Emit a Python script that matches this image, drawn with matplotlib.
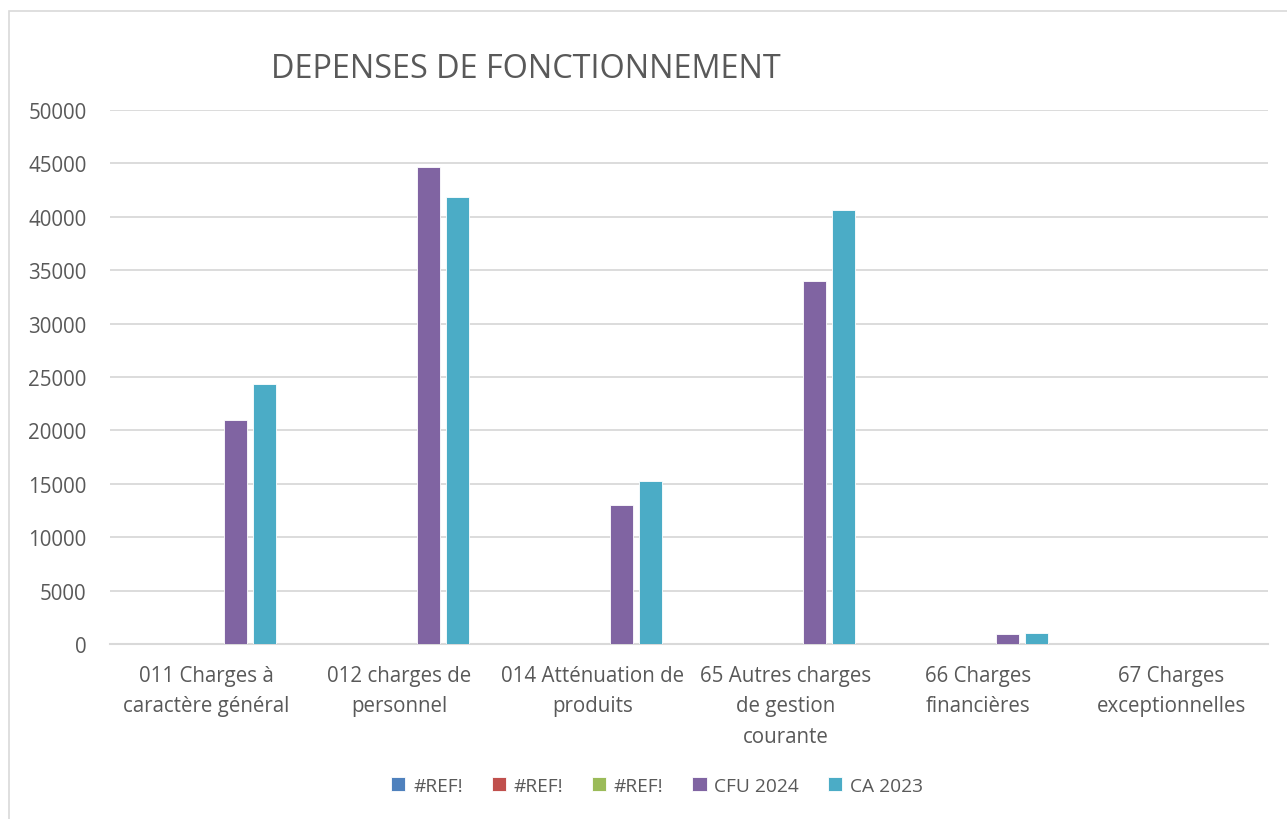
import numpy as np
import matplotlib.pyplot as plt
from matplotlib.patches import Rectangle

# data
categories = ['011 Charges à\ncaractère général', '012 charges de\npersonnel',
              '014 Atténuation de\nproduits', '65 Autres charges\nde gestion\ncourante',
              '66 Charges\nfinancières', '67 Charges\nexceptionnelles']
series_names = ['#REF!', '#REF!', '#REF!', 'CFU 2024', 'CA 2023']
ref1 = [0, 0, 0, 0, 0, 0]
ref2 = [0, 0, 0, 0, 0, 0]
ref3 = [0, 0, 0, 0, 0, 0]
cfu_2024 = [21000, 44660, 13000, 34000, 900, 0]
ca_2023 = [24300, 41810, 15280, 40590, 1000, 0]
colors = ['#4F81BD', '#C0504D', '#9BBB59', '#8064A2', '#4BACC6']

plt.rcParams['font.family'] = ['Open Sans', 'DejaVu Sans']
txt = '#595959'
grid = '#D9D9D9'

fig = plt.figure(figsize=(12.87, 8.2), dpi=100)
# chart frame
fig.patches.append(Rectangle((9/1287, -0.01), 1.0, 1 - 12/820 + 0.01,
                             transform=fig.transFigure, fill=False,
                             edgecolor=grid, linewidth=1.2))

ax = fig.add_axes([110/1287, 1 - 645/820, (1268-110)/1287, (645-111)/820])

x = np.arange(len(categories))
step = 0.151
width = 0.12
all_series = [ref1, ref2, ref3, cfu_2024, ca_2023]
for i, vals in enumerate(all_series):
    ax.bar(x + (i - 2) * step, vals, width, color=colors[i], label=series_names[i],
           edgecolor='white', linewidth=0.6, zorder=3)

ax.set_xlim(-0.5, len(categories) - 0.5)
ax.set_ylim(0, 50000)
ax.set_yticks(np.arange(0, 50001, 5000))
ax.yaxis.grid(True, color=grid, linewidth=1.3, zorder=0)
for s in ['top', 'right', 'left']:
    ax.spines[s].set_visible(False)
ax.spines['bottom'].set_color(grid)
ax.spines['bottom'].set_linewidth(1.5)
ax.tick_params(axis='both', length=0, labelsize=14.8, labelcolor=txt)
ax.tick_params(axis='y', pad=17)
ax.tick_params(axis='x', pad=15)
ax.set_xticks(x)
ax.set_xticklabels(categories, linespacing=1.6)

fig.text(526/1287, 1 - 69/820, 'DEPENSES DE FONCTIONNEMENT', ha='center', va='center',
         fontsize=23.3, color=txt)

ax.legend(loc='center', bbox_to_anchor=(657/1287, 1 - 787/820), bbox_transform=fig.transFigure,
          ncol=5, frameon=False, fontsize=13.8, labelcolor=txt, handlelength=0.75,
          handleheight=0.75, handletextpad=0.4, columnspacing=1.5)

fig.savefig('out.png', dpi=100)
